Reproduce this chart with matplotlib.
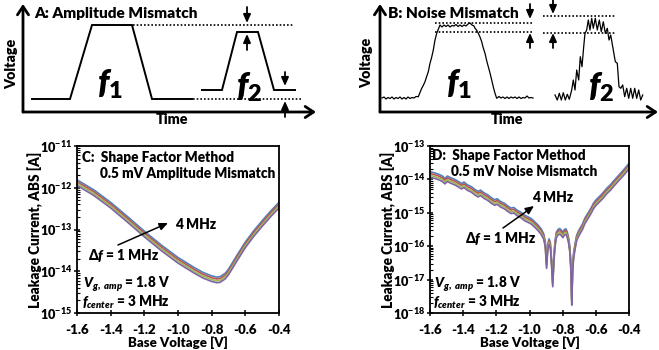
import matplotlib
matplotlib.use('Agg')
import matplotlib.pyplot as plt
import numpy as np
from matplotlib.ticker import FixedLocator, FuncFormatter, LogLocator, NullFormatter

plt.rcParams['font.family'] = ['Lato', 'DejaVu Sans']
plt.rcParams['font.weight'] = 'heavy'
plt.rcParams['axes.labelweight'] = 'heavy'
plt.rcParams['axes.unicode_minus'] = False
plt.rcParams['mathtext.fontset'] = 'custom'
plt.rcParams['mathtext.rm'] = 'Lato:heavy'
plt.rcParams['mathtext.it'] = 'Lato:italic:heavy'
plt.rcParams['mathtext.bf'] = 'Lato:heavy'

# ---- schematic traces (panel A / B), figure pixel coords of the top strip ----
A_F1_X = [32, 70, 92, 132, 152, 192]
A_F1_Y = [99, 99, 25, 25, 99, 99]
A_F2_X = [202, 222, 237, 258, 274, 295]
A_F2_Y = [90, 90, 32, 32, 90, 90]

B_F1_X = [382, 384, 386, 388, 390, 392, 394, 396, 398, 400, 402, 404, 406, 408,
          410, 412, 414, 416, 418.3, 421.7, 423, 425, 426.5, 428.3, 430, 431.5,
          433.3, 435, 436.7, 438, 440, 442, 444, 446, 448, 450, 452, 454, 456,
          458, 460, 462, 464, 466, 468, 470, 472, 474, 475, 476.5, 478.3, 480,
          481.7, 483, 485, 486.5, 488.3, 490, 491.7, 493.3, 495, 496.7, 499,
          501, 503, 505, 507, 509, 511, 513, 515, 517, 519, 521, 523, 525, 527,
          529, 531, 533]
B_F1_Y = [98, 97, 99, 97.5, 98.5, 97, 99, 97.5, 98.5, 97, 99, 97.5, 99, 97,
          98.5, 97.5, 98, 96.5, 96.7, 88.3, 86, 81.7, 77, 71.7, 63.3, 58,
          50, 40, 33.3, 30, 25, 27, 25, 26.5, 25, 27, 25.5, 26, 24.5,
          26.5, 25, 26.5, 25, 26, 24, 23, 25, 26, 28.3, 30, 33.3, 37,
          41.7, 47, 53.3, 60, 66.7, 73, 80, 87, 93.3, 98.3, 96.5,
          98, 97, 98.5, 97, 98.5, 97, 98, 97, 98.5, 97, 98.5, 97.5, 98, 96,
          98, 97.5, 98]
B_F2_X = [555, 557.3, 559.3, 561.3, 563.3, 565.3, 567.3, 569.3, 571.7, 573.3,
          575, 576.7, 578.7, 580.3, 582, 583.7, 585, 586.7, 588.3, 590, 591.7,
          593.3, 595.3, 597.3, 599.3, 601.3, 603.3, 605.3, 607.3, 609, 610.7,
          613.3, 615.3, 617.3, 619, 620.7, 622.7, 624.7, 626.7, 628.7, 630.7,
          632.7, 634.7, 636.7, 638.7, 640.7, 642.7]
B_F2_Y = [95, 100, 93.3, 100, 92.7, 100, 94.3, 99.3, 90, 80,
          90, 70, 80, 56.7, 66.7, 46.7, 33.3, 30, 20, 30, 18.3,
          28.3, 18.3, 30, 20, 31.7, 21.7, 33.3, 28.3, 40, 35,
          50, 61.7, 63.3, 86.7, 88.3, 85, 96.7, 88.3, 98.3, 88.3,
          98.3, 88.3, 98.3, 90, 100, 95]

# ---- panel C: log10 of leakage current, top (blue) series ----
C_V = [-1.6, -1.5, -1.4, -1.3, -1.2, -1.1, -1.0, -0.9, -0.85, -0.8, -0.77,
       -0.75, -0.72, -0.70, -0.65, -0.60, -0.55, -0.50, -0.45, -0.40]
C_LOG = [-11.81, -12.05, -12.35, -12.69, -13.04, -13.37, -13.67, -13.92, -14.03,
         -14.11, -14.14, -14.13, -14.05, -13.95, -13.62, -13.30, -13.03, -12.79,
         -12.56, -12.35]
C_SHIFT = [0.0, -0.045, -0.09, -0.135]
C_DECADES = [-15, -14, -13, -12, -11]

# ---- panel D ----
D_V = [-1.600, -1.575, -1.550, -1.525, -1.510, -1.495, -1.475, -1.450, -1.430,
       -1.410, -1.395, -1.375, -1.350, -1.330, -1.310, -1.295, -1.275, -1.250,
       -1.230, -1.210, -1.195, -1.175, -1.150, -1.130, -1.110, -1.095, -1.075,
       -1.050, -1.030, -1.010, -0.990, -0.970, -0.950, -0.930, -0.915, -0.905,
       -0.897, -0.890, -0.882, -0.874, -0.867, -0.860, -0.853, -0.846, -0.838,
       -0.828, -0.818, -0.808, -0.798, -0.790, -0.780, -0.772, -0.764, -0.756,
       -0.750, -0.745, -0.740, -0.734, -0.726, -0.716, -0.705, -0.695, -0.680,
       -0.665, -0.655, -0.640, -0.625, -0.615, -0.600, -0.580, -0.560, -0.535,
       -0.510, -0.490, -0.470, -0.450, -0.430, -0.400]
D_LOG = [-13.77, -13.80, -13.84, -13.90, -13.97, -13.90, -13.95, -14.00, -14.06,
         -14.12, -14.08, -14.16, -14.22, -14.30, -14.36, -14.32, -14.40, -14.47,
         -14.55, -14.61, -14.58, -14.66, -14.72, -14.80, -14.86, -14.84, -14.92,
         -14.99, -15.07, -15.12, -15.17, -15.26, -15.36, -15.48, -15.62, -15.85,
         -16.50, -15.95, -15.78, -15.90, -16.40, -17.05, -16.30, -15.85, -15.58,
         -15.50, -15.47, -15.52, -15.58, -15.50, -15.48, -15.58, -15.75, -16.05,
         -16.60, -17.60, -16.60, -16.20, -15.95, -15.68, -15.55, -15.46, -15.33,
         -15.15, -15.07, -14.95, -14.82, -14.72, -14.62, -14.52, -14.42, -14.27,
         -14.15, -14.03, -13.92, -13.81, -13.70, -13.52]
D_SHIFT = [0.0, -0.055, -0.11, -0.165]
D_DECADES = [-18, -17, -16, -15, -14, -13]

SERIES_COLORS = ['#4F81BD', '#C0504D', '#9BBB59', '#8064A2']
X_TICKS = [-1.6, -1.4, -1.2, -1.0, -0.8, -0.6, -0.4]

W, H = 659, 350
fig = plt.figure(figsize=(W / 100, H / 100), dpi=100)

# ---------------- top schematics ----------------
TOP_H = 130
ax = fig.add_axes([0, 1 - TOP_H / H, 1, TOP_H / H])
ax.set_xlim(0, W)
ax.set_ylim(TOP_H, 0)
ax.axis('off')

def axis_arrow(x0, y0, x1, y1):
	ax.annotate('', xy=(x1, y1), xytext=(x0, y0),
		arrowprops=dict(arrowstyle='->,head_length=0.6,head_width=0.4', lw=2.0,
			color='black', shrinkA=0, shrinkB=0, mutation_scale=10))

def small_arrow(x, y0, y1):
	ax.annotate('', xy=(x, y1), xytext=(x, y0),
		arrowprops=dict(arrowstyle='-|>,head_length=0.5,head_width=0.22', lw=1.3,
			color='black', shrinkA=0, shrinkB=0, mutation_scale=10))

def dotted(x0, x1, y):
	ax.plot([x0, x1], [y, y], color='black', lw=1.2, linestyle=(0, (1, 1.2)))

TITLE_FS = 11.1
AXL_FS = 10.3
F_FS = 24

# panel A
axis_arrow(23, 112, 23, 4)
axis_arrow(23, 112, 316, 112)
ax.plot(A_F1_X, A_F1_Y, color='black', lw=1.4, solid_joinstyle='miter')
ax.plot(A_F2_X, A_F2_Y, color='black', lw=1.4, solid_joinstyle='miter')
dotted(122, 293, 25)
dotted(193, 303, 99)
small_arrow(247, 7, 23)
small_arrow(247, 50, 34)
small_arrow(285, 72, 86)
small_arrow(285, 117, 101)
ax.text(34, 13, 'A: Amplitude Mismatch', fontsize=TITLE_FS, ha='left', va='center')
ax.text(12, 64, 'Voltage', fontsize=AXL_FS, rotation=90, ha='center', va='center')
ax.text(172, 120, 'Time', fontsize=AXL_FS, ha='center', va='center')
ax.text(110, 84, r'$f_{\mathit{1}}$', fontsize=F_FS, ha='center', va='center')
ax.text(249, 87, r'$f_{\mathit{2}}$', fontsize=F_FS, ha='center', va='center')

# panel B
axis_arrow(380, 112, 380, 4)
axis_arrow(380, 112, 658, 112)
ax.plot(B_F1_X, B_F1_Y, color='black', lw=0.9)
ax.plot(B_F2_X, B_F2_Y, color='black', lw=0.9)
dotted(435, 533, 23)
dotted(435, 533, 31.7)
dotted(543, 615, 15.7)
dotted(543, 615, 33.3)
small_arrow(530, 4, 19)
small_arrow(530, 48, 33)
small_arrow(553, 0, 14)
small_arrow(553, 48, 33)
ax.text(388, 13, 'B: Noise Mismatch', fontsize=TITLE_FS, ha='left', va='center')
ax.text(367, 63, 'Voltage', fontsize=AXL_FS, rotation=90, ha='center', va='center')
ax.text(507, 119, 'Time', fontsize=AXL_FS, ha='center', va='center')
ax.text(459, 84, r'$f_{\mathit{1}}$', fontsize=F_FS, ha='center', va='center')
ax.text(601, 87, r'$f_{\mathit{2}}$', fontsize=F_FS, ha='center', va='center')

# ---------------- bottom log plots ----------------
FS = 9.5
NOTE_FS = 9.8

def decade_label(v, pos):
	return r'$10^{%d}$' % int(round(np.log10(v)))

def frac(axp, x, y):
	# figure pixel -> axes fraction
	bb = axp.get_position()
	return ((x / W) - bb.x0) / bb.width, ((1 - y / H) - bb.y0) / bb.height

def setup(axp, decades, ylabel_x):
	axp.set_yscale('log')
	axp.set_xlim(-1.6, -0.4)
	axp.set_ylim(10.0 ** decades[0], 10.0 ** decades[-1])
	axp.xaxis.set_major_locator(FixedLocator(X_TICKS))
	axp.xaxis.set_major_formatter(FuncFormatter(lambda v, p: '%.1f' % v))
	axp.yaxis.set_major_locator(FixedLocator([10.0 ** d for d in decades]))
	axp.yaxis.set_major_formatter(FuncFormatter(decade_label))
	axp.yaxis.set_minor_locator(LogLocator(base=10, subs=np.arange(2, 10), numticks=20))
	axp.yaxis.set_minor_formatter(NullFormatter())
	axp.tick_params(which='major', direction='inout', length=5, width=1.1)
	axp.tick_params(axis='x', pad=5.5, labelsize=FS)
	axp.tick_params(axis='y', pad=1, labelsize=9.2)
	axp.tick_params(which='minor', direction='in', length=2, width=0.8)
	for s in axp.spines.values():
		s.set_linewidth(1.3)
	axp.set_xlabel('Base Voltage [V]', fontsize=FS)
	axp.set_ylabel('Leakage Current, ABS [A]', fontsize=9.8)
	axp.xaxis.label.set_va('baseline')
	axp.xaxis.set_label_coords(0.5, frac(axp, 0, 347)[1])
	axp.yaxis.label.set_va('center')
	axp.yaxis.set_label_coords(frac(axp, ylabel_x, 0)[0], 0.5)

def draw_band(axp, xs, logs, shifts):
	for col, sh in zip(SERIES_COLORS, shifts):
		axp.plot(xs, [10.0 ** (v + sh) for v in logs], color=col, lw=1.2)

def note(axp, x, y, s):
	axp.text(*frac(axp, x, y), s, transform=axp.transAxes, fontsize=NOTE_FS,
		va='center')

def pointer(axp, x0, y0, x1, y1):
	axp.annotate('', xy=frac(axp, x1, y1), xytext=frac(axp, x0, y0),
		xycoords=axp.transAxes, textcoords=axp.transAxes,
		arrowprops=dict(arrowstyle='-|>,head_length=0.5,head_width=0.22', lw=1.1,
			color='black', shrinkA=0, shrinkB=0, mutation_scale=10))

axc = fig.add_axes([77 / W, 1 - 313 / H, 202 / W, 167 / H])
setup(axc, C_DECADES, 35)
draw_band(axc, C_V, C_LOG, C_SHIFT)
note(axc, 82, 158, 'C:  Shape Factor Method')
note(axc, 100, 174, '0.5 mV Amplitude Mismatch')
note(axc, 175, 224, '4 MHz')
note(axc, 88, 256, r'$\Delta f$ = 1 MHz')
note(axc, 83, 284.5, r'$V_{g,\ amp}$ = 1.8 V')
note(axc, 82, 302, r'$f_{center}$ = 3 MHz')
pointer(axc, 118, 245, 168, 223)

axd = fig.add_axes([430 / W, 1 - 313 / H, 199 / W, 167 / H])
setup(axd, D_DECADES, 388)
draw_band(axd, D_V, D_LOG, D_SHIFT)
note(axd, 432, 156, 'D:  Shape Factor Method')
note(axd, 451, 172, '0.5 mV Noise Mismatch')
note(axd, 532, 197, '4 MHz')
note(axd, 465, 238, r'$\Delta f$ = 1 MHz')
note(axd, 434, 284.5, r'$V_{g,\ amp}$ = 1.8 V')
note(axd, 433, 302, r'$f_{center}$ = 3 MHz')
pointer(axd, 503, 228, 534, 206)

fig.savefig('out.png', dpi=100)
